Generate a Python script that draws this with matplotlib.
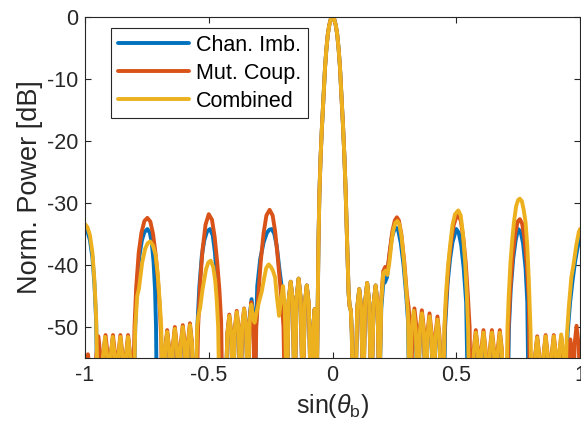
import numpy as np
import matplotlib
matplotlib.use("Agg")
import matplotlib.pyplot as plt

plt.rcParams['font.family'] = ['Liberation Sans', 'DejaVu Sans']
plt.rcParams['mathtext.fontset'] = 'custom'
plt.rcParams['mathtext.rm'] = 'Liberation Sans'
plt.rcParams['mathtext.it'] = 'Liberation Sans:italic'

# main beam and the close-in sidelobes, common to all three cases
near_main = [
    (-0.185, -62),
    (-0.177, -45.7), (-0.169, -42.7), (-0.161, -45.7), (-0.153, -62),
    (-0.145, -45.2), (-0.137, -42.2), (-0.129, -45.2), (-0.120, -62),
    (-0.112, -46.3), (-0.104, -43.3), (-0.096, -46.3), (-0.087, -62),
    (-0.078, -50.0), (-0.072, -47.1), (-0.067, -50.0), (-0.064, -62),
    (-0.060, -47.0), (-0.057, -37.0), (-0.053, -28.5), (-0.048, -22.5),
    (-0.043, -18.0), (-0.037, -13.4), (-0.030, -8.0), (-0.025, -5.3),
    (-0.019, -2.8), (-0.013, -1.3), (-0.007, -0.35), (0.000, 0.0),
    (0.007, -0.35), (0.013, -1.3), (0.019, -2.8), (0.025, -5.3),
    (0.030, -8.0), (0.037, -13.4), (0.043, -18.0), (0.048, -22.5),
    (0.053, -28.0), (0.057, -33.5), (0.061, -39.5), (0.065, -44.5),
    (0.069, -46.6), (0.074, -47.3), (0.078, -51.0), (0.082, -62),
    (0.092, -62), (0.100, -46.9), (0.108, -43.9), (0.116, -46.9), (0.124, -62),
    (0.132, -45.9), (0.140, -42.9), (0.148, -45.9), (0.157, -62),
    (0.166, -46.3), (0.174, -43.3), (0.182, -46.3), (0.189, -62),
]

chan_imb = [
    (-1.000, -34.2), (-0.990, -34.6), (-0.980, -36.0), (-0.970, -38.8),
    (-0.962, -43.0), (-0.955, -49.0), (-0.950, -62),
    (-0.934, -62), (-0.927, -55.0), (-0.919, -52.0), (-0.911, -55.0), (-0.903, -62),
    (-0.896, -55.0), (-0.888, -52.0), (-0.880, -55.0), (-0.872, -62),
    (-0.865, -55.0), (-0.857, -52.0), (-0.849, -55.0), (-0.841, -62),
    (-0.834, -55.0), (-0.826, -52.0), (-0.818, -55.0), (-0.811, -62),
    (-0.803, -62), (-0.797, -50.0), (-0.790, -43.0), (-0.780, -38.5),
    (-0.770, -36.0), (-0.760, -34.7), (-0.748, -34.2), (-0.738, -34.8),
    (-0.730, -36.5), (-0.723, -39.5), (-0.717, -44.0), (-0.713, -50.0), (-0.710, -62),
    (-0.676, -54.0), (-0.668, -51.0), (-0.660, -54.0), (-0.652, -62),
    (-0.645, -54.0), (-0.637, -51.0), (-0.629, -54.0), (-0.621, -62),
    (-0.613, -53.5), (-0.605, -50.5), (-0.597, -53.5), (-0.590, -62),
    (-0.584, -53.0), (-0.576, -50.0), (-0.568, -53.0), (-0.561, -62),
    (-0.552, -62), (-0.546, -50.0), (-0.538, -43.5), (-0.528, -38.5),
    (-0.518, -36.0), (-0.507, -34.6), (-0.495, -34.2), (-0.484, -35.2),
    (-0.475, -38.0), (-0.467, -42.5), (-0.460, -48.0), (-0.455, -52.0), (-0.451, -62),
    (-0.432, -62), (-0.425, -51.5), (-0.417, -48.5), (-0.409, -51.5), (-0.402, -62),
    (-0.395, -51.0), (-0.387, -48.0), (-0.379, -51.0), (-0.372, -62),
    (-0.365, -50.5), (-0.357, -47.5), (-0.349, -50.5), (-0.342, -62),
    (-0.335, -48.5), (-0.327, -45.5), (-0.319, -48.5), (-0.313, -62),
    (-0.309, -50.0), (-0.304, -43.4), (-0.292, -39.0), (-0.278, -36.3),
    (-0.265, -34.8), (-0.255, -34.3), (-0.245, -34.2), (-0.235, -35.0),
    (-0.225, -37.0), (-0.215, -40.5), (-0.207, -43.0), (-0.200, -46.0),
    (-0.193, -50.0), (-0.188, -62),
] + near_main + [
    (0.197, -47.0), (0.205, -43.0), (0.212, -42.8), (0.220, -42.0),
    (0.230, -38.5), (0.240, -35.5), (0.250, -34.3), (0.258, -34.0),
    (0.266, -34.5), (0.276, -36.5), (0.287, -40.0), (0.297, -44.5),
    (0.305, -49.0), (0.310, -62),
    (0.320, -51.0), (0.328, -48.0), (0.336, -51.0), (0.345, -62),
    (0.353, -51.3), (0.361, -48.3), (0.369, -51.3), (0.377, -62),
    (0.384, -51.8), (0.392, -48.8), (0.400, -51.8), (0.408, -62),
    (0.416, -52.2), (0.424, -49.2), (0.432, -52.2), (0.440, -62),
    (0.450, -62), (0.455, -50.0), (0.465, -43.0), (0.475, -39.0),
    (0.485, -36.3), (0.500, -34.2), (0.510, -34.8), (0.520, -36.8),
    (0.530, -40.5), (0.540, -46.0), (0.547, -62),
    (0.563, -62), (0.571, -54.5), (0.579, -51.5), (0.587, -54.5), (0.595, -62),
    (0.602, -54.5), (0.610, -51.5), (0.618, -54.5), (0.627, -62),
    (0.636, -54.5), (0.644, -51.5), (0.652, -54.5), (0.660, -62),
    (0.668, -54.5), (0.676, -51.5), (0.684, -54.5), (0.692, -62),
    (0.708, -62), (0.713, -50.0), (0.720, -44.0), (0.730, -39.0),
    (0.740, -36.0), (0.750, -34.2), (0.760, -34.6), (0.770, -36.5),
    (0.780, -40.5), (0.787, -46.0), (0.792, -62),
    (0.811, -62), (0.819, -55.0), (0.827, -52.0), (0.835, -55.0), (0.845, -62),
    (0.853, -55.0), (0.861, -52.0), (0.869, -55.0), (0.878, -62),
    (0.886, -55.0), (0.894, -52.0), (0.902, -55.0), (0.909, -62),
    (0.916, -55.0), (0.924, -52.0), (0.932, -55.0), (0.943, -62),
    (0.950, -51.0), (0.960, -46.0), (0.970, -42.5), (0.980, -39.5),
    (0.990, -37.2), (1.000, -35.5),
]

mut_coup = [
    (-1.000, -62), (-0.995, -57.0), (-0.988, -54.4), (-0.981, -57.0), (-0.972, -62),
    (-0.963, -62), (-0.954, -54.5), (-0.946, -51.5), (-0.938, -54.5), (-0.932, -62),
    (-0.925, -54.3), (-0.917, -51.3), (-0.909, -54.3), (-0.903, -62),
    (-0.895, -54.3), (-0.887, -51.3), (-0.879, -54.3), (-0.872, -62),
    (-0.865, -54.3), (-0.857, -51.3), (-0.849, -54.3), (-0.841, -62),
    (-0.834, -54.3), (-0.826, -51.3), (-0.818, -54.3), (-0.811, -62),
    (-0.806, -62), (-0.800, -50.0), (-0.793, -43.5), (-0.783, -38.0),
    (-0.772, -34.8), (-0.760, -32.9), (-0.748, -32.4), (-0.736, -33.0),
    (-0.725, -35.0), (-0.714, -38.5), (-0.705, -42.5), (-0.697, -47.5),
    (-0.692, -52.0), (-0.688, -62),
    (-0.676, -53.5), (-0.668, -50.5), (-0.660, -53.5), (-0.652, -62),
    (-0.645, -53.0), (-0.637, -50.0), (-0.629, -53.0), (-0.621, -62),
    (-0.613, -52.7), (-0.605, -49.7), (-0.597, -52.7), (-0.590, -62),
    (-0.584, -52.4), (-0.576, -49.4), (-0.568, -52.4), (-0.561, -62),
    (-0.549, -62), (-0.543, -50.0), (-0.535, -43.0), (-0.525, -37.5),
    (-0.513, -33.5), (-0.500, -31.8), (-0.487, -32.7), (-0.476, -35.5),
    (-0.466, -39.5), (-0.457, -44.0), (-0.450, -49.0), (-0.445, -62),
    (-0.432, -62), (-0.425, -51.0), (-0.417, -48.0), (-0.409, -51.0), (-0.402, -62),
    (-0.395, -50.4), (-0.387, -47.4), (-0.379, -50.4), (-0.372, -62),
    (-0.365, -50.0), (-0.357, -47.0), (-0.349, -50.0), (-0.342, -62),
    (-0.335, -49.0), (-0.328, -46.0), (-0.321, -49.0), (-0.313, -62),
    (-0.308, -50.0), (-0.300, -45.0), (-0.290, -39.5), (-0.279, -35.0),
    (-0.267, -32.0), (-0.254, -31.1), (-0.242, -32.0), (-0.232, -34.5),
    (-0.222, -38.5), (-0.213, -42.5), (-0.205, -46.0), (-0.198, -50.0), (-0.193, -62),
] + near_main + [
    (0.196, -46.0), (0.205, -41.0), (0.213, -40.3), (0.222, -40.8),
    (0.232, -37.5), (0.242, -34.5), (0.252, -32.8), (0.260, -32.3),
    (0.268, -32.8), (0.278, -35.0), (0.290, -39.5), (0.300, -44.5),
    (0.308, -47.0), (0.313, -50.0), (0.317, -62),
    (0.323, -50.0), (0.331, -47.0), (0.339, -50.0), (0.345, -62),
    (0.353, -50.3), (0.361, -47.3), (0.369, -50.3), (0.377, -62),
    (0.384, -50.8), (0.392, -47.8), (0.400, -50.8), (0.408, -62),
    (0.416, -51.3), (0.424, -48.3), (0.432, -51.3), (0.440, -62),
    (0.448, -62), (0.453, -50.0), (0.460, -45.0), (0.470, -39.5),
    (0.480, -36.0), (0.490, -33.5), (0.500, -32.3), (0.508, -32.0),
    (0.518, -32.8), (0.528, -35.5), (0.538, -39.5), (0.547, -45.0),
    (0.554, -50.0), (0.558, -62),
    (0.563, -62), (0.571, -53.5), (0.579, -50.5), (0.587, -53.5), (0.595, -62),
    (0.602, -53.5), (0.610, -50.5), (0.618, -53.5), (0.627, -62),
    (0.636, -53.5), (0.644, -50.5), (0.652, -53.5), (0.660, -62),
    (0.668, -53.5), (0.676, -50.5), (0.684, -53.5), (0.692, -62),
    (0.706, -62), (0.711, -50.0), (0.718, -44.0), (0.728, -38.5),
    (0.738, -35.0), (0.748, -33.0), (0.757, -32.6), (0.766, -33.3),
    (0.775, -35.5), (0.785, -40.0), (0.793, -45.5), (0.798, -62),
    (0.811, -62), (0.819, -54.5), (0.827, -51.5), (0.835, -54.5), (0.845, -62),
    (0.853, -54.3), (0.861, -51.3), (0.869, -54.3), (0.878, -62),
    (0.886, -54.3), (0.894, -51.3), (0.902, -54.3), (0.909, -62),
    (0.916, -54.5), (0.924, -51.5), (0.932, -54.5), (0.944, -62),
    (0.953, -55.0), (0.961, -52.0), (0.969, -55.0), (0.974, -62),
    (0.978, -52.8), (0.986, -49.8), (0.994, -52.8), (1.000, -58.0),
]

combined = [
    (-1.000, -33.4), (-0.990, -33.9), (-0.980, -35.2), (-0.970, -38.0),
    (-0.962, -42.5), (-0.955, -48.5), (-0.948, -62),
    (-0.934, -62), (-0.927, -54.6), (-0.919, -51.6), (-0.911, -54.6), (-0.903, -62),
    (-0.896, -54.6), (-0.888, -51.6), (-0.880, -54.6), (-0.872, -62),
    (-0.865, -54.6), (-0.857, -51.6), (-0.849, -54.6), (-0.841, -62),
    (-0.834, -54.6), (-0.826, -51.6), (-0.818, -54.6), (-0.811, -62),
    (-0.803, -62), (-0.797, -50.0), (-0.789, -45.0), (-0.782, -43.8),
    (-0.769, -39.6), (-0.757, -37.4), (-0.747, -36.5), (-0.737, -36.2),
    (-0.726, -36.8), (-0.715, -38.3), (-0.706, -41.5), (-0.698, -46.0),
    (-0.692, -50.0), (-0.686, -62),
    (-0.676, -53.8), (-0.668, -50.8), (-0.660, -53.8), (-0.652, -62),
    (-0.645, -53.3), (-0.637, -50.3), (-0.629, -53.3), (-0.621, -62),
    (-0.613, -53.0), (-0.605, -50.0), (-0.597, -53.0), (-0.590, -62),
    (-0.584, -52.7), (-0.576, -49.7), (-0.568, -52.7), (-0.561, -62),
    (-0.553, -62), (-0.547, -50.0), (-0.542, -48.2), (-0.535, -47.0),
    (-0.525, -43.9), (-0.511, -40.7), (-0.502, -39.6), (-0.492, -39.3),
    (-0.482, -40.3), (-0.474, -42.5), (-0.468, -45.5), (-0.462, -50.0), (-0.457, -62),
    (-0.432, -62), (-0.425, -51.2), (-0.417, -48.2), (-0.409, -51.2), (-0.402, -62),
    (-0.395, -50.6), (-0.387, -47.6), (-0.379, -50.6), (-0.372, -62),
    (-0.365, -50.1), (-0.357, -47.1), (-0.349, -50.1), (-0.342, -62),
    (-0.335, -49.3), (-0.328, -46.4), (-0.321, -48.5), (-0.315, -49.3),
    (-0.305, -47.3), (-0.294, -45.5), (-0.286, -44.3), (-0.277, -42.3),
    (-0.268, -40.5), (-0.258, -39.9), (-0.249, -40.3), (-0.241, -40.9),
    (-0.232, -42.0), (-0.225, -45.0), (-0.216, -48.2), (-0.209, -46.0),
    (-0.200, -43.4), (-0.193, -46.5),
] + near_main + [
    (0.197, -46.0), (0.205, -41.3), (0.214, -40.9), (0.222, -41.6),
    (0.230, -39.5), (0.238, -36.5), (0.246, -34.3), (0.254, -33.2),
    (0.262, -32.9), (0.270, -33.4), (0.279, -35.5), (0.289, -39.5),
    (0.298, -44.0), (0.305, -48.0), (0.311, -62),
    (0.320, -50.4), (0.328, -47.4), (0.336, -50.4), (0.345, -62),
    (0.353, -50.8), (0.361, -47.8), (0.369, -50.8), (0.377, -62),
    (0.384, -51.3), (0.392, -48.3), (0.400, -51.3), (0.408, -62),
    (0.416, -51.8), (0.424, -48.8), (0.432, -51.8), (0.440, -62),
    (0.447, -62), (0.452, -50.0), (0.458, -45.0), (0.466, -40.5),
    (0.475, -36.9), (0.485, -33.5), (0.495, -31.8), (0.508, -31.2),
    (0.518, -32.0), (0.527, -35.0), (0.536, -39.6), (0.543, -45.0),
    (0.548, -50.5), (0.552, -62),
    (0.563, -62), (0.571, -53.9), (0.579, -50.9), (0.587, -53.9), (0.595, -62),
    (0.602, -53.9), (0.610, -50.9), (0.618, -53.9), (0.627, -62),
    (0.636, -53.9), (0.644, -50.9), (0.652, -53.9), (0.660, -62),
    (0.668, -53.9), (0.676, -50.9), (0.684, -53.9), (0.692, -62),
    (0.702, -62), (0.707, -50.0), (0.712, -45.0), (0.719, -39.6),
    (0.726, -36.0), (0.733, -33.1), (0.742, -30.5), (0.750, -29.5),
    (0.757, -29.3), (0.765, -29.7), (0.772, -31.0), (0.780, -33.1),
    (0.787, -37.0), (0.793, -42.3), (0.800, -50.4), (0.805, -62),
    (0.811, -62), (0.819, -54.7), (0.827, -51.7), (0.835, -54.7), (0.845, -62),
    (0.853, -54.5), (0.861, -51.5), (0.869, -54.5), (0.878, -62),
    (0.886, -54.5), (0.894, -51.5), (0.902, -54.5), (0.909, -62),
    (0.916, -54.2), (0.924, -51.2), (0.932, -54.2), (0.940, -62),
    (0.946, -52.0), (0.955, -46.6), (0.965, -42.0), (0.975, -39.6),
    (0.985, -36.8), (0.995, -34.7), (1.000, -34.2),
]

labels = ['Chan. Imb.', 'Mut. Coup.', 'Combined']
colors = ['#0072BD', '#D95319', '#EDB120']

fig = plt.figure(figsize=(5.81, 4.33), dpi=100)
ax = fig.add_axes([0.1463, 0.1732, 0.852, 0.7875])

for series, lab, col in zip([chan_imb, mut_coup, combined], labels, colors):
    xs, ys = np.array(series).T
    ax.plot(xs, ys, color=col, lw=2.8, label=lab,
            solid_joinstyle='round', solid_capstyle='round')

ax.set_xlim(-1, 1)
ax.set_ylim(-55, 0)
ax.set_xticks([-1, -0.5, 0, 0.5, 1])
ax.set_xticklabels(['-1', '-0.5', '0', '0.5', '1'])
ax.set_yticks([-50, -40, -30, -20, -10, 0])
ax.set_yticklabels(['-50', '-40', '-30', '-20', '-10', '0'])
ax.tick_params(direction='in', top=True, right=True, length=4,
               width=0.8, labelsize=15.5, colors='#262626', pad=5)
for sp in ax.spines.values():
    sp.set_color('#262626')
    sp.set_linewidth(0.8)

ax.set_xlabel(r'sin($\theta_\mathrm{b}$)', fontsize=18, color='#262626', labelpad=4)
ax.set_ylabel('Norm. Power [dB]', fontsize=19.5, color='#262626', labelpad=3)

leg = ax.legend(loc='upper left', bbox_to_anchor=(0.053, 0.968), borderaxespad=0,
                fontsize=15.5, handlelength=3.3, handletextpad=0.3,
                labelspacing=0.32, borderpad=0.32, fancybox=False,
                framealpha=1, edgecolor='#262626')
leg.get_frame().set_linewidth(0.8)

fig.savefig('out.png', dpi=100)
